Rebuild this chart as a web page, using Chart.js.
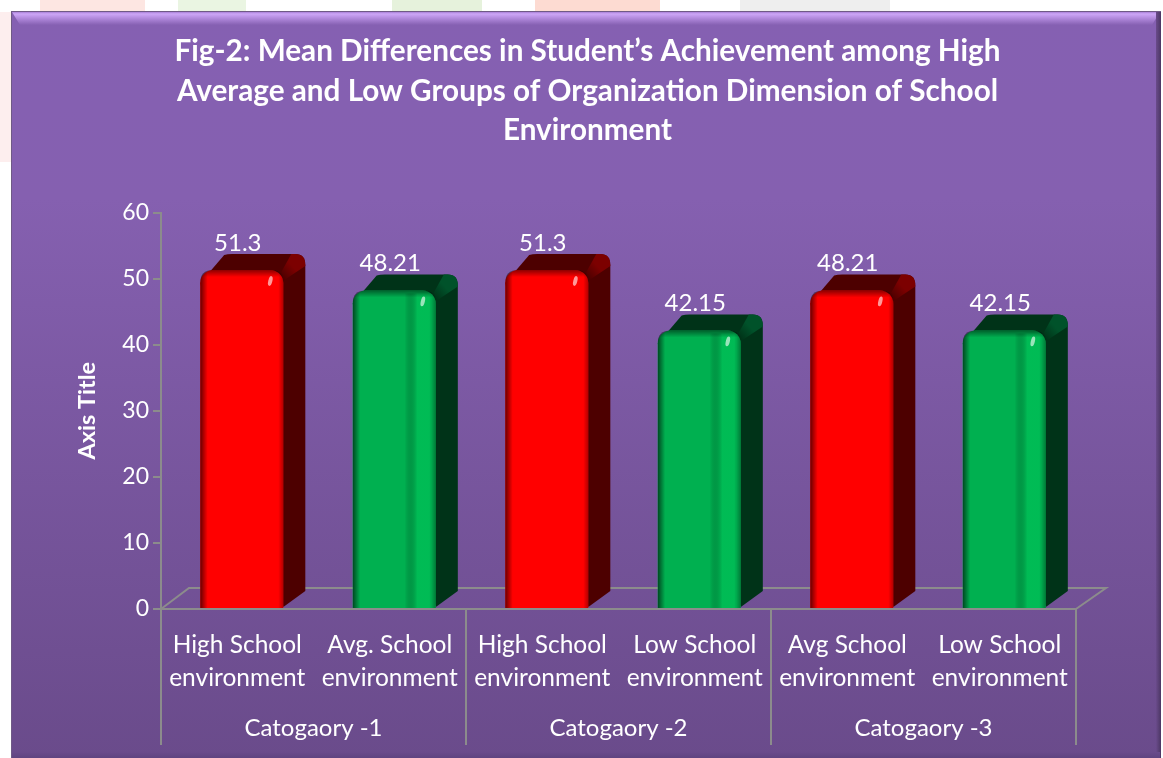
<!DOCTYPE html>
<html>
<head>
<meta charset="utf-8">
<title>Fig-2</title>
<script src="https://cdn.jsdelivr.net/npm/chart.js@4"></script>
<style>
  html, body { margin: 0; padding: 0; background: #fff; overflow: hidden; }
  #page { position: relative; width: 1163px; height: 758px; overflow: hidden; }
  .wm { position: absolute; top: 0; height: 12px; }
  #panel {
    position: absolute; left: 11px; top: 11px; width: 1150px; height: 747px; box-sizing: border-box;
    background: linear-gradient(to bottom, #8560b2 0%, #8560b0 25%, #6a4b8b 100%);
    border: 1px solid #6f5a86;
  }
  #bevelTop {
    position: absolute; left: 12px; top: 12px; width: 1148px; height: 13px;
    background: linear-gradient(to bottom, #a880d6 0%, #cda6f7 15%, #b48cdf 45%, #8560b2 100%);
    clip-path: polygon(0 0, 100% 0, calc(100% - 8px) 100%, 8px 100%);
  }
  #bevelRight { position: absolute; left: 1156px; top: 12px; width: 5px; height: 746px; background: linear-gradient(to right, #6a4b8b, #4b3663); }
  #bevelBottom { position: absolute; left: 12px; top: 752px; width: 1148px; height: 6px; background: linear-gradient(to bottom, #6a4b8b, #5f4480); }
  canvas { position: absolute; left: 0; top: 0; }
</style>
</head>
<body>
<div id="page">
  <div class="wm" style="left:40px;width:105px;background:#fde6e2"></div>
  <div class="wm" style="left:178px;width:68px;background:#eaf5e2"></div>
  <div class="wm" style="left:392px;width:90px;background:#e6f2dc"></div>
  <div class="wm" style="left:535px;width:125px;background:#fddbd2"></div>
  <div class="wm" style="left:740px;width:150px;background:#eeeeee"></div>
  <div class="wm" style="left:0;top:12px;width:11px;height:150px;background:#fdeeee"></div>
  <div id="panel"></div>
  <div id="bevelTop"></div>
  <div id="bevelRight"></div>
  <div id="bevelBottom"></div>
  <canvas id="chart" width="1163" height="758"></canvas>
</div>
<script>
var titleLines = ["Fig-2: Mean Differences in Student’s Achievement among High",
                  "Average and Low Groups of Organization Dimension of School",
                  "Environment"];
var categories = [
  ["High School", "environment"],
  ["Avg. School", "environment"],
  ["High School", "environment"],
  ["Low School", "environment"],
  ["Avg School", "environment"],
  ["Low School", "environment"]
];
var groups = ["Catogaory -1", "Catogaory -2", "Catogaory -3"];
var values = [51.3, 48.21, 51.3, 42.15, 48.21, 42.15];
var yTicks = [0, 10, 20, 30, 40, 50, 60];

var font = "Lato, 'Open Sans', sans-serif";
var axisgray = "#8c8c8c";
var frontColors = ["#ff0000", "#00b050", "#ff0000", "#00b050", "#ff0000", "#00b050"];
var sideColors  = ["#4d0000", "#003318", "#4d0000", "#003318", "#4d0000", "#003318"];
var wedgeColors = ["#7c0000", "#00522a", "#7c0000", "#00522a", "#7c0000", "#00522a"];
var lightBands  = ["rgba(255,0,0,0)", "rgba(0,195,88,0.6)", "rgba(255,0,0,0)", "rgba(0,195,88,0.6)", "rgba(255,0,0,0)", "rgba(0,195,88,0.6)"];

// the bars sit a bit right of the centre of their category, like the 3D look of the original
var shiftX = 4.5, depthX = 22, depthY = 16, radius = 13;

function roundedFront(ctx, bar) {
  var l = bar.x - bar.width / 2, r = bar.x + bar.width / 2;
  ctx.beginPath();
  ctx.moveTo(l, bar.base);
  ctx.lineTo(l, bar.y + radius);
  ctx.quadraticCurveTo(l, bar.y, l + radius, bar.y);
  ctx.lineTo(r - radius, bar.y);
  ctx.quadraticCurveTo(r, bar.y, r, bar.y + radius);
  ctx.lineTo(r, bar.base);
  ctx.closePath();
}

var box3d = {
  id: "box3d",
  beforeDatasetsDraw: function(chart) {
    var ctx = chart.ctx, a = chart.chartArea;
    // floor
    ctx.save();
    ctx.strokeStyle = axisgray;
    ctx.lineWidth = 2;
    ctx.beginPath();
    ctx.moveTo(a.left, a.bottom);
    ctx.lineTo(a.left + 28, a.bottom - 21);
    ctx.lineTo(a.right + 30, a.bottom - 21);
    ctx.lineTo(a.right, a.bottom);
    ctx.stroke();
    ctx.restore();

    ctx.save();
    ctx.translate(shiftX, 0);
    chart.getDatasetMeta(0).data.forEach(function(bar, i) {
      var l = bar.x - bar.width / 2, r = bar.x + bar.width / 2, t = bar.y, b = bar.base - 1;
      ctx.fillStyle = sideColors[i];
      ctx.beginPath();
      ctx.moveTo(l, t + radius);
      ctx.lineTo(l + depthX + 2, t - depthY + 1);
      ctx.quadraticCurveTo(l + depthX + 5, t - depthY, l + depthX + 10, t - depthY);
      ctx.lineTo(r + depthX - 10, t - depthY);
      ctx.quadraticCurveTo(r + depthX, t - depthY, r + depthX, t - depthY + 11);
      ctx.lineTo(r + depthX, b - depthY);
      ctx.lineTo(r, b);
      ctx.closePath();
      ctx.fill();
      // lighter corner where the top meets the side
      var wg = ctx.createLinearGradient(r - 2, t + 6, r + depthX - 4, t - depthY + 4);
      wg.addColorStop(0, sideColors[i]);
      wg.addColorStop(0.55, wedgeColors[i]);
      wg.addColorStop(1, wedgeColors[i]);
      ctx.fillStyle = wg;
      ctx.beginPath();
      ctx.moveTo(r - 2, t + 2);
      ctx.lineTo(r + depthX - 14, t - depthY);
      ctx.lineTo(r + depthX - 10, t - depthY);
      ctx.quadraticCurveTo(r + depthX, t - depthY, r + depthX, t - depthY + 11);
      ctx.lineTo(r + depthX, t - depthY + 12);
      ctx.lineTo(r + 1, t + 10);
      ctx.closePath();
      ctx.fill();
    });
  },
  afterDatasetsDraw: function(chart) {
    var ctx = chart.ctx;
    chart.getDatasetMeta(0).data.forEach(function(bar, i) {
      var l = bar.x - bar.width / 2, r = bar.x + bar.width / 2;
      ctx.save();
      roundedFront(ctx, bar);
      ctx.clip();
      var g = ctx.createLinearGradient(l, 0, r, 0);
      g.addColorStop(0, "rgba(0,0,0,0.6)");
      g.addColorStop(0.09, "rgba(0,0,0,0)");
      g.addColorStop(0.94, "rgba(0,0,0,0)");
      g.addColorStop(1, "rgba(0,0,0,0.3)");
      ctx.fillStyle = g;
      ctx.fillRect(l, bar.y, bar.width, bar.base - bar.y);
      var band = ctx.createLinearGradient(l + 52, 0, r - 6, 0);
      band.addColorStop(0, "rgba(0,0,0,0)");
      band.addColorStop(0.5, lightBands[i]);
      band.addColorStop(1, lightBands[i]);
      ctx.fillStyle = band;
      ctx.fillRect(l + 52, bar.y + 3, bar.width - 58, bar.base - bar.y);
      var top = ctx.createLinearGradient(0, bar.y, 0, bar.y + 7);
      top.addColorStop(0, "rgba(0,0,0,0.45)");
      top.addColorStop(1, "rgba(0,0,0,0)");
      ctx.fillStyle = top;
      ctx.fillRect(l, bar.y, bar.width, 7);
      // small glint
      ctx.fillStyle = "rgba(255,255,255,0.6)";
      ctx.beginPath();
      ctx.ellipse(r - 13, bar.y + 11, 2, 5, 0.25, 0, Math.PI * 2);
      ctx.fill();
      ctx.restore();
    });
    ctx.restore(); // translate from beforeDatasetsDraw

    // data labels
    ctx.save();
    ctx.fillStyle = "#ffffff";
    ctx.font = "24px " + font;
    ctx.textAlign = "center";
    ctx.textBaseline = "alphabetic";
    chart.getDatasetMeta(0).data.forEach(function(bar, i) {
      ctx.fillText(String(values[i]), bar.x + 0.5, bar.y - 19);
    });
    ctx.restore();
  },
  afterDraw: function(chart) {
    // separators between the groups, below the axis
    var ctx = chart.ctx, s = chart.scales.x2, a = chart.chartArea;
    ctx.save();
    ctx.strokeStyle = axisgray;
    ctx.lineWidth = 2;
    for (var i = 0; i <= groups.length; i++) {
      var x = Math.round(s.left + i * s.width / groups.length);
      ctx.beginPath();
      ctx.moveTo(x, a.bottom);
      ctx.lineTo(x, 745);
      ctx.stroke();
    }
    ctx.restore();
  }
};

var data = {
  labels: categories,
  datasets: [{
    data: values,
    backgroundColor: frontColors,
    borderWidth: 0,
    borderRadius: { topLeft: radius, topRight: radius, bottomLeft: 0, bottomRight: 0 },
    borderSkipped: false,
    barPercentage: 0.545,
    categoryPercentage: 1,
    clip: false
  }]
};

var config = {
  type: "bar",
  data: data,
  options: {
    responsive: false,
    animation: false,
    layout: { padding: { left: 12, right: 0, top: 32, bottom: 8 } },
    plugins: {
      legend: { display: false },
      tooltip: { enabled: false },
      title: {
        display: true,
        text: titleLines,
        color: "#ffffff",
        font: { family: font, size: 29.7, weight: "bold", lineHeight: 1.33 },
        padding: { top: 0, bottom: 62 }
      }
    },
    scales: {
      y: {
        min: 0,
        max: 60,
        afterBuildTicks: function(scale) { scale.ticks = yTicks.map(function(v) { return { value: v }; }); },
        afterFit: function(scale) { scale.width = 149; },
        border: { color: axisgray, width: 2 },
        grid: { drawOnChartArea: false, color: axisgray, lineWidth: 2, tickLength: 8 },
        ticks: { color: "#ffffff", font: { family: font, size: 23 }, padding: 4 },
        title: {
          display: true,
          text: "Axis Title",
          color: "#ffffff",
          font: { family: font, size: 23.5, weight: "bold" },
          padding: { top: 61, bottom: 0 }
        }
      },
      // empty axis on the right, keeps the plot clear of the panel edge
      yRight: {
        position: "right",
        display: true,
        border: { display: false },
        grid: { display: false },
        ticks: { display: false },
        afterFit: function(scale) { scale.width = 87; }
      },
      x: {
        border: { color: axisgray, width: 2 },
        grid: { display: false },
        ticks: {
          color: "#ffffff",
          font: { family: font, size: 24.5, lineHeight: 1.34 },
          padding: 12,
          maxRotation: 0,
          autoSkip: false
        },
        afterFit: function(scale) { scale.height = 91; }
      },
      x2: {
        type: "category",
        position: "bottom",
        labels: groups,
        offset: true,
        border: { display: false },
        grid: { display: false },
        ticks: { color: "#ffffff", font: { family: font, size: 24 }, padding: 6, maxRotation: 0 },
        afterFit: function(scale) { scale.height = 50; }
      }
    }
  },
  plugins: [box3d]
};

var chartctx = document.getElementById("chart").getContext("2d");
var chart = new Chart(chartctx, config);
</script>
</body>
</html>
